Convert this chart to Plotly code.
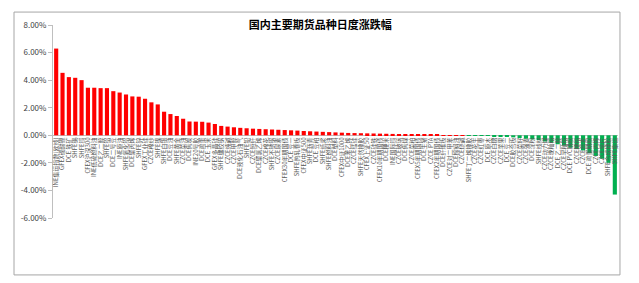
import plotly.graph_objects as go

title = "国内主要期货品种日度涨跌幅"

categories = [
    "INE集运指数(欧线)", "GFEX碳酸锂", "DCE 铁矿", "SHFE锡", "SHFE铜", "CFEX沪深300", "INE低硫燃料油",
    "DCE乙二醇", "SHFE铝", "DCE二号豆", "INE原油", "SHFE氧化铝", "DCE聚丙烯", "SHFE锌",
    "GFEX工业硅", "CZCE棉纱", "SHFE镍", "SHFE白银", "DCE豆油", "SHFE黄金", "CZCE菜油", "DCE焦炭",
    "INE20号胶", "DCE鸡蛋", "DCE 玉米", "GFEX多晶硅", "SHFE螺纹钢", "CZCE纯碱", "CZCE甲醇",
    "DCE液化石油气", "SHFE铅", "CZCE短纤", "DCE聚氯乙烯", "CZCE棉花", "SHFE不锈钢",
    "CZCE尿素", "CFEX30年期国债", "DCE 豆一", "SHFE热轧卷板", "CFEX中证500", "SHFE沥青",
    "DCE 豆粕", "SHFE纸浆", "SHFE燃料油", "DCE塑料", "CFEX中证1000", "DCE苯乙烯",
    "CZCE锰硅", "SHFE天然橡胶", "CFEX上证50", "CZCE硅铁", "CFEX10年期国债", "DCE粳米",
    "INE国际铜", "CZCE玻璃", "DCE焦煤", "CZCE菜粕", "CFEX5年期国债", "DCE生猪",
    "CZCE PTA", "CFEX2年期国债", "DCE纤维板", "CZCE对二甲苯", "DCE棕榈油", "CZCE烧碱",
    "SHFE丁二烯橡胶", "CZCE花生", "CZCE红枣", "DCE 原木", "CZCE白糖", "CZCE苹果",
    "DCE 豆二", "DCE胶合板", "CZCE菜籽", "CZCE强麦", "DCE淀粉", "SHFE线材", "CZCE动力煤",
    "CZCE晚籼稻", "DCE 乙二醇", "CZCE早籼稻", "DCE PVC期权", "CZCE粳稻", "CZCE普麦",
    "DCE 鸡蛋期权", "CZCE丙烯", "CZCE瓶片", "SHFE合成橡胶", "SHFE集运",
]

changes = [
    6.29, 4.53, 4.22, 4.17, 4.00, 3.45, 3.45, 3.42, 3.42, 3.20, 3.10, 2.96, 2.82, 2.80,
    2.65, 2.39, 2.24, 1.71, 1.54, 1.40, 1.20, 1.00, 0.99, 0.98, 0.92, 0.82, 0.68, 0.63,
    0.58, 0.54, 0.51, 0.48, 0.46, 0.44, 0.42, 0.40, 0.38, 0.36, 0.34, 0.31, 0.29, 0.27,
    0.25, 0.23, 0.21, 0.19, 0.17, 0.16, 0.15, 0.14, 0.13, 0.12, 0.11, 0.10, 0.09, 0.08,
    0.07, 0.06, 0.05, 0.04, 0.03, 0.02, 0.01, 0.01, 0.005, -0.01, -0.02, -0.03, -0.05,
    -0.08, -0.10, -0.12, -0.15, -0.20, -0.25, -0.30, -0.35, -0.45, -0.55, -0.65, -0.75,
    -0.90, -1.00, -1.10, -1.30, -1.50, -1.70, -2.00, -4.30,
]

y_min, y_max = -6, 8
y_ticks = [8, 6, 4, 2, 0, -2, -4, -6]
y_tick_text = ["8.00%", "6.00%", "4.00%", "2.00%", "0.00%", "-2.00%", "-4.00%", "-6.00%"]

colors = ["#FF0000" if v >= 0 else "#00B050" for v in changes]

fig = go.Figure(go.Bar(x=categories, y=changes, marker=dict(color=colors, line=dict(width=0))))

fig.update_layout(
    width=639, height=283,
    margin=dict(l=53, r=21, t=25, b=65),
    paper_bgcolor="white", plot_bgcolor="white",
    bargap=0.35, showlegend=False,
    font=dict(family="Noto Sans CJK SC, sans-serif", color="#404040"),
    title=dict(text=title, x=0.473, xref="paper", y=0.91, yref="container",
               xanchor="center", yanchor="middle",
               font=dict(size=11, color="#000000", family="Noto Sans CJK SC, sans-serif", weight="bold")),
    shapes=[dict(type="rect", xref="paper", yref="paper", x0=-0.069, x1=1.0035, y0=-0.295, y1=1.067,
                 line=dict(color="#A6A6A6", width=1), fillcolor="rgba(0,0,0,0)", layer="below")],
)

fig.update_xaxes(
    tickmode="linear", dtick=1, tick0=0,
    tickangle=-90, tickfont=dict(size=6, color="#595959"), showgrid=False,
    showline=False, ticks="", automargin=False, fixedrange=True,
    anchor="free", position=(0 - y_min) / (y_max - y_min),
)
fig.update_yaxes(
    range=[y_min, y_max], tickvals=y_ticks, ticktext=y_tick_text, tickfont=dict(size=8, color="#404040"),
    showgrid=False, showline=True, linecolor="#BFBFBF", linewidth=1, ticks="outside", ticklen=4,
    tickcolor="#BFBFBF", zeroline=True, zerolinecolor="#BFBFBF", zerolinewidth=1, automargin=False,
)

fig.write_html("out.html")
